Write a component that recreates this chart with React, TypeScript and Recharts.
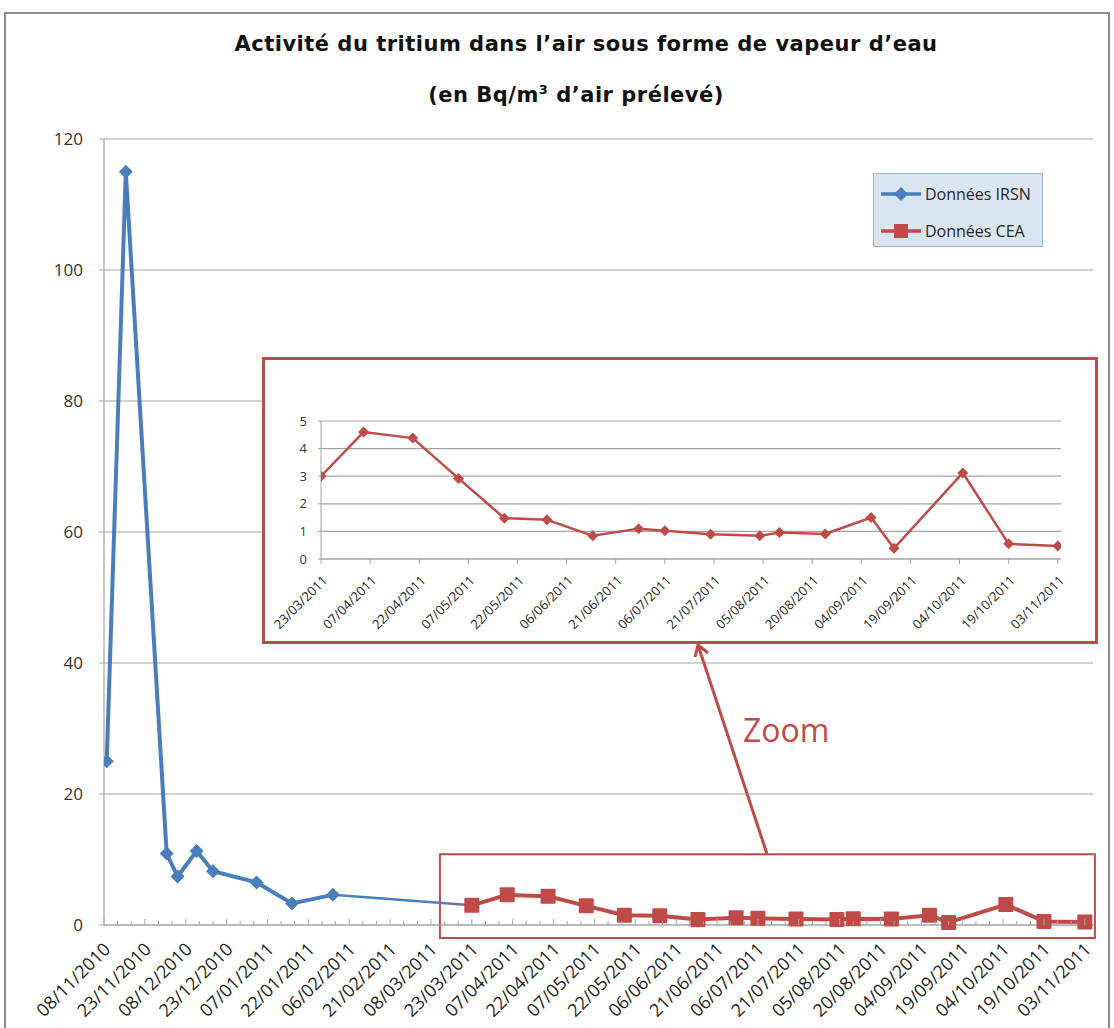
import { LineChart, Line, XAxis, YAxis, CartesianGrid, Legend, ReferenceArea } from "recharts";

// IRSN measurements (Bq/m3)
const irsnDates = [
  "09/11/2010", "16/11/2010", "01/12/2010", "05/12/2010", "12/12/2010",
  "18/12/2010", "03/01/2011", "16/01/2011", "31/01/2011",
];
const irsnValues = [25, 115, 10.9, 7.4, 11.3, 8.2, 6.5, 3.3, 4.6];

// CEA measurements (Bq/m3)
const ceaDates = [
  "23/03/2011", "05/04/2011", "20/04/2011", "04/05/2011", "18/05/2011", "31/05/2011",
  "14/06/2011", "28/06/2011", "06/07/2011", "20/07/2011", "04/08/2011", "10/08/2011",
  "24/08/2011", "07/09/2011", "14/09/2011", "05/10/2011", "19/10/2011", "03/11/2011",
];
const ceaValues = [
  3.0, 4.6, 4.38, 2.92, 1.48, 1.42, 0.84, 1.1, 1.02, 0.9, 0.84, 0.96, 0.91, 1.5, 0.39, 3.12,
  0.55, 0.47,
];

// date axis labels (every 15 days)
const axisLabels = [
  "08/11/2010", "23/11/2010", "08/12/2010", "23/12/2010", "07/01/2011", "22/01/2011",
  "06/02/2011", "21/02/2011", "08/03/2011", "23/03/2011", "07/04/2011", "22/04/2011",
  "07/05/2011", "22/05/2011", "06/06/2011", "21/06/2011", "06/07/2011", "21/07/2011",
  "05/08/2011", "20/08/2011", "04/09/2011", "19/09/2011", "04/10/2011", "19/10/2011",
  "03/11/2011",
];
const mainYTicks = [0, 20, 40, 60, 80, 100, 120];
const insetYTicks = [0, 1, 2, 3, 4, 5];
const legendOrder = ["irsn", "cea"];

const BLUE = "#4a7ebb";
const RED = "#be4b48";
const GRID = "#a3a3a3";
const FONT = "'Open Sans', sans-serif";
const TITLE_FONT = "'DejaVu Sans', sans-serif";

const parse = (s: string) => {
  const [d, m, y] = s.split("/").map(Number);
  return Date.UTC(y, m - 1, d);
};
const origin = parse(axisLabels[0]);
const toDay = (s: string) => Math.round((parse(s) - origin) / 86400000);

const majorTicks = axisLabels.map(toDay);
const labelByDay = new Map(axisLabels.map((l) => [toDay(l), l]));
const allTicks: number[] = [];
majorTicks.forEach((t, i) => {
  allTicks.push(t);
  if (i < majorTicks.length - 1) allTicks.push(t + 5, t + 10);
});
const insetStart = toDay(ceaDates[0]);
const insetTicks = majorTicks.filter((t) => t >= insetStart);

type Row = { day: number; irsn?: number; cea?: number; link?: number };
const rowMap = new Map<number, Row>();
const row = (day: number) => {
  if (!rowMap.has(day)) rowMap.set(day, { day });
  return rowMap.get(day)!;
};
irsnDates.forEach((d, i) => (row(toDay(d)).irsn = irsnValues[i]));
ceaDates.forEach((d, i) => (row(toDay(d)).cea = ceaValues[i]));
row(toDay(irsnDates[irsnDates.length - 1])).link = irsnValues[irsnValues.length - 1];
row(toDay(ceaDates[0])).link = ceaValues[0];
const mainData = [...rowMap.values()].sort((a, b) => a.day - b.day);
const insetData = ceaDates.map((d, i) => ({ day: toDay(d), cea: ceaValues[i] }));

const diamondDot = (r: number, color: string) => (p: any) => {
  const { cx, cy, index } = p;
  if (cx == null || cy == null) return <g key={index} />;
  return (
    <polygon
      key={index}
      points={`${cx},${cy - r} ${cx + r},${cy} ${cx},${cy + r} ${cx - r},${cy}`}
      fill={color}
    />
  );
};

const squareDot = (r: number, color: string) => (p: any) => {
  const { cx, cy, index } = p;
  if (cx == null || cy == null) return <g key={index} />;
  return <rect key={index} x={cx - r} y={cy - r} width={2 * r} height={2 * r} rx={1} fill={color} />;
};

function MainTick(props: any) {
  const { x, y, payload } = props;
  const label = labelByDay.get(payload.value);
  const major = label !== undefined;
  return (
    <g>
      <line x1={x} x2={x} y1={y} y2={y - (major ? 6 : 4)} stroke={GRID} />
      {major && (
        <text
          x={x + 3}
          y={y + 21}
          transform={`rotate(-45, ${x + 3}, ${y + 21})`}
          textAnchor="end"
          dy="0.35em"
          fontSize={18}
          fill="#1e1e1e"
          fontFamily={FONT}
        >
          {label}
        </text>
      )}
    </g>
  );
}

function InsetTick(props: any) {
  const { x, y, payload } = props;
  const label = labelByDay.get(payload.value);
  return (
    <text
      x={x + 4}
      y={y + 14}
      transform={`rotate(-45, ${x + 4}, ${y + 14})`}
      textAnchor="end"
      dy="0.35em"
      fontSize={13}
      fill="#1e1e1e"
      fontFamily={FONT}
    >
      {label}
    </text>
  );
}

const renderLegend = (props: any) => {
  const items = (props.payload || [])
    .filter((e: any) => legendOrder.includes(e.dataKey))
    .sort((a: any, b: any) => legendOrder.indexOf(a.dataKey) - legendOrder.indexOf(b.dataKey));
  return (
    <div
      style={{
        width: 170,
        height: 74,
        boxSizing: "border-box",
        background: "#dbe5f1",
        border: "1px solid #9bb7d9",
        paddingTop: 1,
        fontFamily: FONT,
        fontSize: 16,
        color: "#262626",
      }}
    >
      {items.map((e: any) => (
        <div key={e.value} style={{ display: "flex", alignItems: "center", height: 37 }}>
          <svg width={50} height={18} style={{ marginLeft: 5 }}>
            <line x1={2} x2={42} y1={9} y2={9} stroke={e.color} strokeWidth={3.5} />
            {e.dataKey === "irsn" ? (
              <polygon points="22,2 29,9 22,16 15,9" fill={e.color} />
            ) : (
              <rect x={15} y={2} width={14} height={14} fill={e.color} />
            )}
          </svg>
          <span style={{ marginLeft: -4 }}>{e.value}</span>
        </div>
      ))}
    </div>
  );
};

const titleStyle = {
  position: "absolute" as const,
  left: 86,
  width: 1000,
  textAlign: "center" as const,
  fontFamily: TITLE_FONT,
  fontWeight: "bold" as const,
  fontSize: 21,
  letterSpacing: 0.5,
  color: "#111",
  whiteSpace: "nowrap" as const,
};

export default function App() {
  return (
    <div
      style={{
        position: "absolute",
        left: 0,
        top: 0,
        width: 1114,
        height: 1028,
        overflow: "hidden",
        background: "#fff",
      }}
    >
      <div
        style={{
          position: "absolute",
          left: 4,
          top: 12,
          width: 1106,
          height: 1100,
          border: "2px solid #8c8c8c",
          boxSizing: "border-box",
        }}
      />
      <div style={{ ...titleStyle, top: 32 }}>Activité du tritium dans l’air sous forme de vapeur d’eau</div>
      <div style={{ ...titleStyle, top: 83, left: 76 }}>
        (en Bq/m<span style={{ fontSize: 13, position: "relative", top: -8 }}>3</span> d’air prélevé)
      </div>

      <div style={{ position: "absolute", left: 0, top: 0 }}>
        <LineChart width={1114} height={1028} data={mainData} margin={{ top: 139, right: 21, bottom: 0, left: 44 }}>
          <defs>
            <linearGradient id="linkGrad" x1="0" y1="0" x2="1" y2="0">
              <stop offset="0" stopColor={BLUE} />
              <stop offset="0.6" stopColor={BLUE} />
              <stop offset="1" stopColor="#8a6a9c" />
            </linearGradient>
          </defs>
          <CartesianGrid vertical={false} stroke={GRID} strokeWidth={1.2} />
          <XAxis
            type="number"
            dataKey="day"
            domain={[0, 363]}
            ticks={allTicks}
            interval={0}
            tick={(p: any) => <MainTick {...p} />}
            tickLine={false}
            tickSize={0}
            tickMargin={0}
            height={103}
            axisLine={{ stroke: GRID, strokeWidth: 1.2 }}
            allowDataOverflow
          />
          <YAxis
            type="number"
            domain={[0, 120]}
            ticks={mainYTicks}
            interval={0}
            width={60}
            tickSize={5}
            tickMargin={16}
            axisLine={{ stroke: GRID, strokeWidth: 1.2 }}
            tickLine={{ stroke: GRID }}
            tick={{ fontSize: 17, fill: "#333", fontFamily: FONT }}
          />
          <ReferenceArea
            x1={123.3}
            x2={363.7}
            y1={-2}
            y2={10.8}
            ifOverflow="visible"
            fill="none"
            stroke={RED}
            strokeWidth={2}
          />
          <Legend
            content={renderLegend}
            layout="horizontal"
            verticalAlign="middle"
            align="center"
            wrapperStyle={{ left: 873, top: 173, width: 170, height: 74 }}
          />
          <Line
            type="linear"
            dataKey="link"
            stroke="url(#linkGrad)"
            strokeWidth={2.5}
            dot={false}
            activeDot={false}
            connectNulls
            legendType="none"
            isAnimationActive={false}
          />
          <Line
            type="linear"
            dataKey="irsn"
            name="Données IRSN"
            stroke={BLUE}
            strokeWidth={4}
            dot={diamondDot(7, BLUE)}
            activeDot={false}
            connectNulls
            isAnimationActive={false}
          />
          <Line
            type="linear"
            dataKey="cea"
            name="Données CEA"
            stroke={RED}
            strokeWidth={4}
            dot={squareDot(7.5, RED)}
            activeDot={false}
            connectNulls
            isAnimationActive={false}
          />
        </LineChart>
      </div>

      <div
        style={{
          position: "absolute",
          left: 262,
          top: 357,
          width: 836,
          height: 287,
          border: `3px solid ${RED}`,
          background: "#fff",
          boxSizing: "border-box",
        }}
      >
        <LineChart width={830} height={281} data={insetData} margin={{ top: 61, right: 34, bottom: 0, left: 0 }}>
          <CartesianGrid vertical={false} stroke={GRID} strokeWidth={1.2} />
          <XAxis
            type="number"
            dataKey="day"
            domain={[insetStart, 361]}
            ticks={insetTicks}
            interval={0}
            tick={(p: any) => <InsetTick {...p} />}
            tickSize={5}
            tickMargin={0}
            tickLine={{ stroke: GRID }}
            axisLine={{ stroke: GRID, strokeWidth: 1.2 }}
            height={82}
            allowDataOverflow
          />
          <YAxis
            type="number"
            domain={[0, 5]}
            ticks={insetYTicks}
            interval={0}
            width={56}
            tickSize={3}
            tickMargin={11}
            axisLine={{ stroke: GRID }}
            tickLine={{ stroke: GRID }}
            tick={{ fontSize: 13, fill: "#333", fontFamily: FONT }}
          />
          <Line
            type="linear"
            dataKey="cea"
            stroke={RED}
            strokeWidth={2.5}
            dot={diamondDot(5.5, RED)}
            activeDot={false}
            isAnimationActive={false}
          />
        </LineChart>
      </div>

      <svg style={{ position: "absolute", left: 0, top: 0, pointerEvents: "none" }} width={1114} height={1028}>
        <line x1={767} y1={854} x2={698} y2={645} stroke={RED} strokeWidth={3} />
        <polyline points="695,657 698,645 708,653" fill="none" stroke={RED} strokeWidth={3} />
        <text x={743} y={742} fontSize={32} fill={RED} fontFamily={FONT}>
          Zoom
        </text>
      </svg>
    </div>
  );
}
